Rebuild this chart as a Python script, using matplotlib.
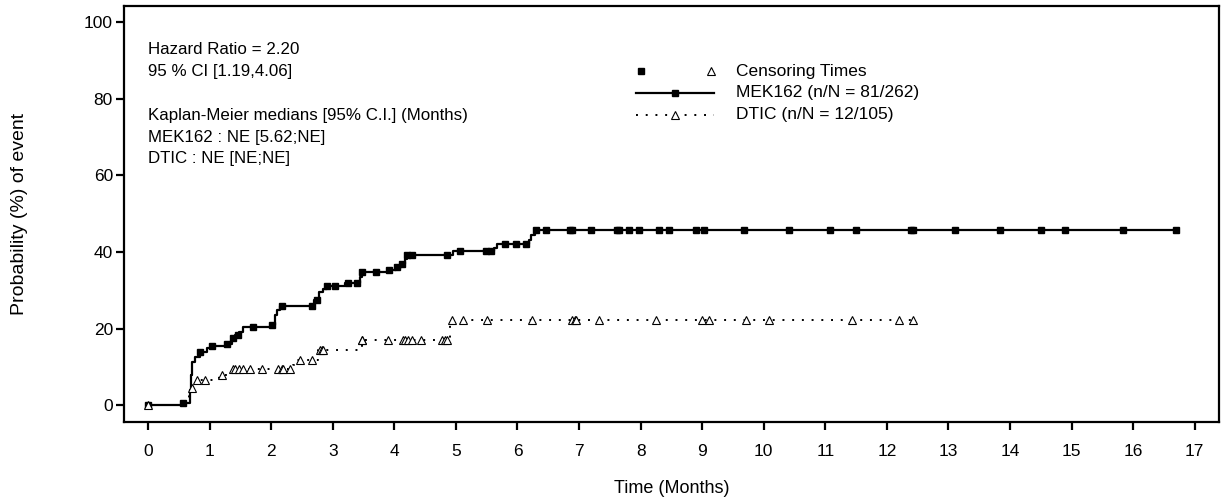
import numpy as np
import matplotlib.pyplot as plt
from matplotlib.lines import Line2D

plt.rcParams['font.family'] = ['Liberation Sans', 'DejaVu Sans']

# cumulative event probability (%) - step times and levels after each step
mek_t = [0, 0.57, 0.68, 0.70, 0.71, 0.76, 0.84, 0.95, 1.04, 1.28, 1.36, 1.42, 1.48, 1.54,
         2.01, 2.06, 2.09, 2.15, 2.70, 2.78, 2.84, 2.90, 3.20, 3.45, 3.48, 3.90, 4.02,
         4.12, 4.17, 4.20, 4.95, 5.62, 5.66, 6.18, 6.22, 6.28]
mek_p = [0, 0.5, 4.0, 8.0, 11.2, 12.5, 13.8, 14.9, 15.4, 15.9, 17.5, 18.3, 19.2, 20.4,
         20.9, 23.5, 24.8, 25.8, 27.4, 29.5, 30.4, 31.0, 31.8, 33.5, 34.7, 35.2, 36.0,
         37.0, 38.2, 39.2, 40.2, 41.0, 42.0, 43.2, 44.4, 45.7]
mek_cens = [0.0, 0.57, 0.84, 1.04, 1.28, 1.38, 1.46, 1.70, 2.01, 2.17, 2.67, 2.74, 2.90,
            3.03, 3.24, 3.40, 3.48, 3.71, 3.92, 4.05, 4.13, 4.20, 4.29, 4.85, 5.06, 5.49,
            5.57, 5.79, 5.98, 6.14, 6.30, 6.47, 6.85, 6.89, 7.20, 7.62, 7.65, 7.81, 7.97,
            8.30, 8.46, 8.90, 9.03, 9.68, 10.41, 11.07, 11.50, 12.40, 12.42, 13.11, 13.83,
            14.51, 14.89, 15.83, 16.69]

dtic_t = [0, 0.60, 0.66, 0.70, 0.74, 0.78, 1.15, 1.38, 2.35, 2.42, 2.76, 3.47, 4.90]
dtic_p = [0, 1.5, 3.0, 4.5, 5.2, 6.5, 7.8, 9.6, 10.6, 11.7, 14.3, 17.0, 22.2]
dtic_cens = [0.0, 0.71, 0.79, 0.92, 1.20, 1.38, 1.41, 1.48, 1.54, 1.65, 1.85, 2.11, 2.17,
             2.19, 2.30, 2.46, 2.67, 2.79, 2.82, 2.84, 3.47, 3.48, 3.89, 4.14, 4.17,
             4.22, 4.29, 4.44, 4.78, 4.82, 4.86, 4.93, 5.11, 5.51, 6.24, 6.89, 6.93,
             6.95, 7.33, 8.25, 9.00, 9.11, 9.71, 10.08, 11.43, 12.19, 12.43]

mek_end = 16.69
dtic_end = 12.43

stats_text = ("Hazard Ratio = 2.20\n95 % CI [1.19,4.06]\n\n"
              "Kaplan-Meier medians [95% C.I.] (Months)\n"
              "MEK162 : NE [5.62;NE]\nDTIC : NE [NE;NE]")
legend_labels = ["Censoring Times", "MEK162 (n/N = 81/262)", "DTIC (n/N = 12/105)"]


def step_value(times, probs, t):
    i = np.searchsorted(times, t, side='right') - 1
    return np.asarray(probs)[i]


fig = plt.figure(figsize=(12.21, 4.99), dpi=100)
ax = fig.add_axes([0.1016, 0.154, 0.8965, 0.834])

# MEK162 curve
t = mek_t + [mek_end]
p = mek_p + [mek_p[-1]]
ax.plot(t, p, drawstyle='steps-post', color='black', lw=1.6)
ax.plot(mek_cens, step_value(mek_t, mek_p, mek_cens), ls='none', marker='s',
        ms=5, color='black')

# DTIC curve
t = dtic_t + [dtic_end]
p = dtic_p + [dtic_p[-1]]
ax.plot(t, p, drawstyle='steps-post', color='black', lw=1.4, ls=(0, (1, 4)))
ax.plot(dtic_cens, step_value(dtic_t, dtic_p, dtic_cens), ls='none', marker='^',
        ms=6, mfc='white', mec='black', mew=0.8)

ax.set_xlim(-0.39, 17.39)
ax.set_ylim(-4.4, 104.2)
ax.set_xticks(range(0, 18))
ax.set_yticks(range(0, 101, 20))
ax.tick_params(axis='both', labelsize=12.5, width=1.6, length=6, color='black')
ax.tick_params(axis='x', pad=10)
ax.tick_params(axis='y', pad=2)
for s in ax.spines.values():
    s.set_linewidth(1.6)

ax.set_xlabel("Time (Months)", fontsize=13, labelpad=15)
ax.set_ylabel("Probability (%) of event", fontsize=14, labelpad=40)

ax.text(0.022, 0.913, stats_text, transform=ax.transAxes, fontsize=12.2,
        va='top', ha='left', linespacing=1.57)

# legend drawn by hand in axes fraction coordinates
lx0, lx1, tx = 0.468, 0.539, 0.559
rows = [0.843, 0.792, 0.739]
ax.plot([lx0 + 0.004], [rows[0]], transform=ax.transAxes, marker='s', ms=4.5,
        color='black', ls='none')
ax.plot([lx1 - 0.003], [rows[0]], transform=ax.transAxes, marker='^', ms=6,
        mfc='white', mec='black', mew=0.8, ls='none')
ax.add_line(Line2D([lx0, lx1], [rows[1]] * 2, transform=ax.transAxes, color='black',
                   lw=1.6, ls='-'))
ax.plot([(lx0 + lx1) / 2], [rows[1]], transform=ax.transAxes, marker='s', ms=5,
        color='black', ls='none')
ax.add_line(Line2D([lx0, lx1], [rows[2]] * 2, transform=ax.transAxes, color='black',
                   lw=1.4, ls=(0, (1, 4))))
ax.plot([(lx0 + lx1) / 2], [rows[2]], transform=ax.transAxes, marker='^', ms=6,
        mfc='white', mec='black', mew=0.8, ls='none')
for y, lab in zip(rows, legend_labels):
    ax.text(tx, y, lab, transform=ax.transAxes, fontsize=12.5, va='center', ha='left')

fig.savefig("out.png", dpi=100)
